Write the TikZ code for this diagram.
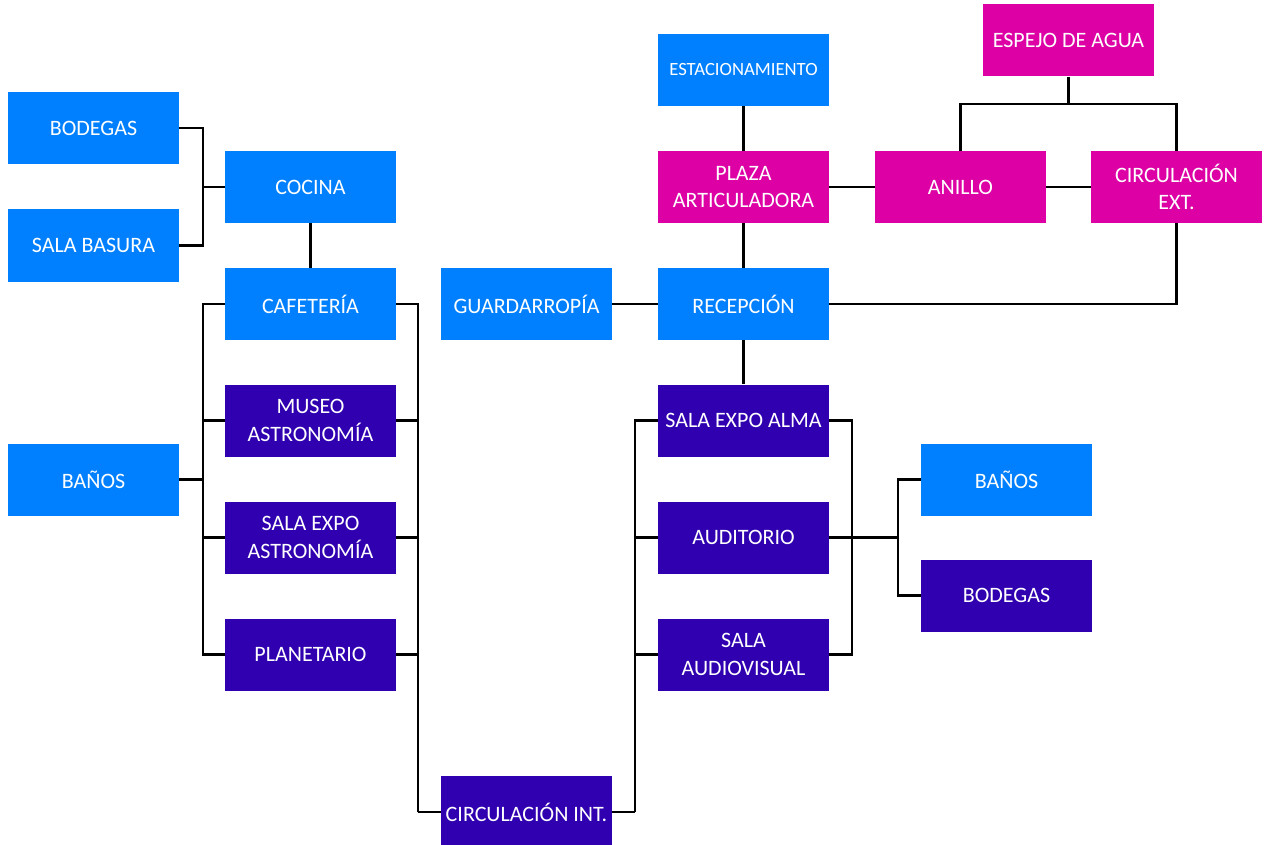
\documentclass[tikz,border=0pt]{standalone}
\usepackage{fontspec}
\setmainfont{Carlito}
\definecolor{azul}{HTML}{0080FF}
\definecolor{morado}{HTML}{3000B0}
\definecolor{fucsia}{HTML}{DC00A5}
\tikzset{
	caja/.style={fill=#1, text=white, minimum width=128.25pt, minimum height=54pt, inner sep=0pt, align=center, font=\fontsize{16.5}{20.5}\selectfont},
	linea/.style={line width=1.6pt, black}
}
\begin{document}
\begin{tikzpicture}[x=0.75pt, y=-0.75pt]
			\useasboundingbox (0,0) rectangle (1264,845);
			%servicios cocina
			\node (bodegasA) at (93.5, 128) [caja=azul]{BODEGAS};
			\node (basura) at (93.5, 245.5) [caja=azul]{SALA BASURA};
			\node (cocina) at (310.5, 187) [caja=azul]{COCINA};
			\node (banosA) at (93.5, 479.5) [caja=azul]{BAÑOS};
			
			%columna museo
			\node (cafeteria) at (310.5, 304) [caja=azul]{CAFETERÍA};
			\node (museo) at (310.5, 420.5) [caja=morado]{MUSEO\\ASTRONOMÍA};
			\node (salaexpo) at (310.5, 537.5) [caja=morado]{SALA EXPO\\ASTRONOMÍA};
			\node (planetario) at (310.5, 654.5) [caja=morado]{PLANETARIO};
			\node (guardarropia) at (526.5, 304) [caja=azul]{GUARDARROPÍA};
			\node (circint) at (526.5, 812) [caja=morado]{CIRCULACIÓN INT.};
			
			%columna recepcion
			\node (estac) at (743.5, 70) [caja=azul, font=\fontsize{14}{17}\selectfont]{ESTACIONAMIENTO};
			\node (plaza) at (743.5, 187) [caja=fucsia]{PLAZA\\ARTICULADORA};
			\node (recepcion) at (743.5, 304) [caja=azul]{RECEPCIÓN};
			\node (salaalma) at (743.5, 420.5) [caja=morado]{SALA EXPO ALMA};
			\node (auditorio) at (743.5, 537.5) [caja=morado]{AUDITORIO};
			\node (audiovisual) at (743.5, 654.5) [caja=morado]{SALA\\AUDIOVISUAL};
			
			%exterior
			\node (espejo) at (1068.5, 40.5) [caja=fucsia]{ESPEJO DE AGUA};
			\node (anillo) at (960.5, 187) [caja=fucsia]{ANILLO};
			\node (circext) at (1176.5, 187) [caja=fucsia]{CIRCULACIÓN\\EXT.};
			\node (banosB) at (1006.5, 479.5) [caja=azul]{BAÑOS};
			\node (bodegasB) at (1006.5, 595.5) [caja=morado]{BODEGAS};
			
			%uniones
			\coordinate (jA) at (203, 187);
			\coordinate (busL) at (203, 479.5);
			\coordinate (busR) at (418, 812);
			\coordinate (busM) at (635, 812);
			\coordinate (busN) at (852, 537.5);
			\coordinate (busO) at (898, 537.5);
			\coordinate (jE) at (1068.5, 104);
			
			\draw[linea] (bodegasA.east) -| (jA) |- (basura.east);
			\draw[linea] (jA) -- (cocina.west);
			\draw[linea] (cocina) -- (cafeteria);
			\draw[linea] (banosA.east) -- (busL);
			\foreach \n in {cafeteria, museo, salaexpo, planetario}{
				\draw[linea] (busL) |- (\n.west);
				\draw[linea] (busR) |- (\n.east);
			}
			\draw[linea] (busR) -- (circint.west);
			\draw[linea] (circint.east) -- (busM);
			\foreach \n in {salaalma, auditorio, audiovisual}{
				\draw[linea] (busM) |- (\n.west);
				\draw[linea] (busN) |- (\n.east);
			}
			\draw[linea] (busN) -- (busO);
			\draw[linea] (busO) |- (banosB.west);
			\draw[linea] (busO) |- (bodegasB.west);
			
			\draw[linea] (guardarropia) -- (recepcion);
			\draw[linea] (estac) -- (plaza);
			\draw[linea] (plaza) -- (recepcion);
			\draw[linea] (recepcion) -- (salaalma);
			\draw[linea] (plaza) -- (anillo);
			\draw[linea] (anillo) -- (circext);
			\draw[linea] (espejo) -- (jE);
			\draw[linea] (anillo.north) |- (jE) -| (circext.north);
			\draw[linea] (circext.south) |- (recepcion.east);
		\end{tikzpicture}
\end{document}
